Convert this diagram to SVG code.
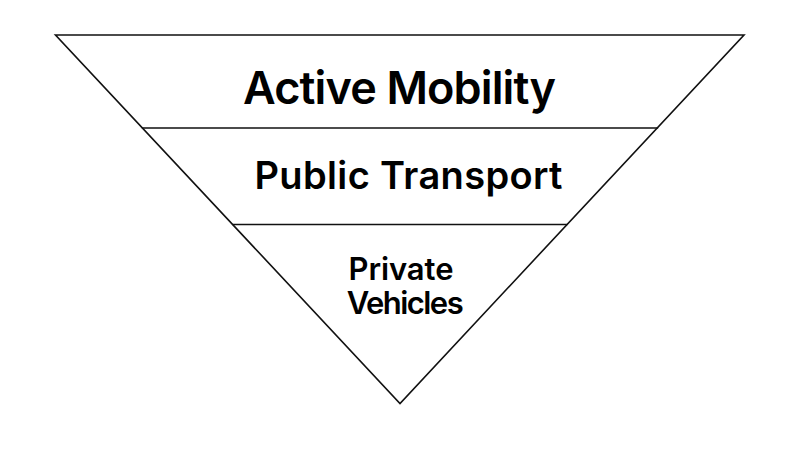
<svg xmlns="http://www.w3.org/2000/svg" width="800" height="450" viewBox="0 0 800 450">
<style>
.ln{stroke:#111;stroke-width:1.6;fill:none;stroke-linecap:round;stroke-linejoin:miter}
.t{font-family:Inter,"Liberation Sans",Arial,sans-serif;font-weight:600;fill:#000;text-anchor:middle;letter-spacing:-1px}
</style>
<rect width="800" height="450" fill="#fff"/>
<g id="connectors">
<polygon class="ln" points="55.5,35 744,35 400,403.5"/>
<line class="ln" x1="142.5" y1="128" x2="657.5" y2="128"/>
<line class="ln" x1="233" y1="224.5" x2="567" y2="224.5"/>
</g>
<g id="active-mobility">
<text class="t" x="399" y="103.5" font-size="45" textLength="312" lengthAdjust="spacing">Active Mobility</text>
</g>
<g id="public-transport">
<text class="t" x="408" y="189" font-size="38" textLength="307" lengthAdjust="spacing">Public Transport</text>
</g>
<g id="private-vehicles">
<text class="t" x="400.5" y="280" font-size="31" textLength="104" lengthAdjust="spacing">Private</text>
<text class="t" x="404.7" y="313.5" font-size="31" textLength="116" lengthAdjust="spacing">Vehicles</text>
</g>
</svg>
